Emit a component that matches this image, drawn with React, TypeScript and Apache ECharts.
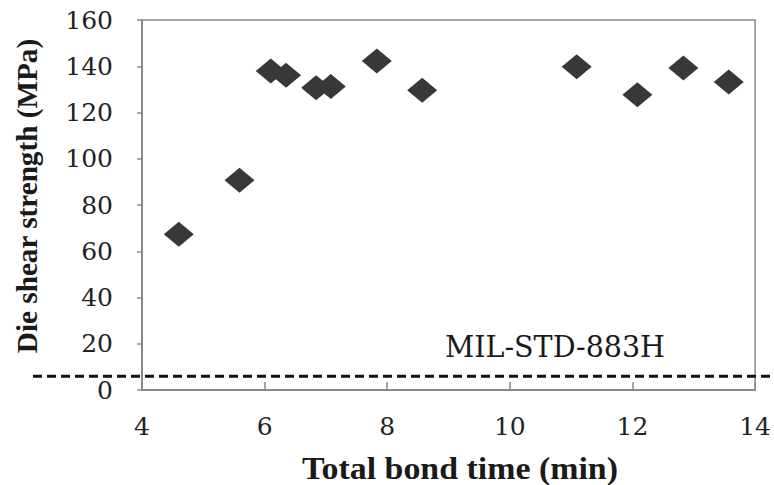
import React, { useEffect, useRef } from "react";
import * as echarts from "echarts";

const bondTime = [4.6, 5.59, 6.1, 6.35, 6.84, 7.08, 7.83, 8.57, 11.09, 12.08, 12.83, 13.57];
const shearStrength = [67.3, 90.7, 137.9, 136.1, 130.7, 131.2, 142.3, 129.6, 139.8, 127.7, 139.2, 133.2];
const standardLimit = [6];
const standardLabel = "MIL-STD-883H";
const xTitle = "Total bond time (min)";
const yTitle = "Die shear strength (MPa)";

function measure(text: string, font: string): number {
  const c = document.createElement("canvas").getContext("2d");
  if (!c) return 0;
  c.font = font;
  return c.measureText(text).width;
}

export default function App() {
  const ref = useRef<HTMLDivElement>(null);
  useEffect(() => {
    if (!ref.current) return;
    const chart = echarts.init(ref.current, null, { renderer: "svg" });
    const axisColor = "#8a8a8a";
    const labelStyle = { fontFamily: "DejaVu Serif", fontSize: 25, color: "#222" };
    chart.setOption({
      animation: false,
      backgroundColor: "#fff",
      grid: {
        left: 142, top: 20, right: 17, bottom: 95,
        show: true, borderColor: axisColor, borderWidth: 1.5,
      },
      xAxis: {
        type: "value", min: 4, max: 14, interval: 2,
        axisLine: { show: true, lineStyle: { color: axisColor, width: 2 } },
        axisTick: { show: true, inside: true, length: 8, lineStyle: { color: axisColor, width: 1.5 } },
        splitLine: { show: false },
        axisLabel: { ...labelStyle, margin: 24 },
      },
      yAxis: {
        type: "value", min: 0, max: 160, interval: 20,
        axisLine: { show: true, lineStyle: { color: axisColor, width: 2 } },
        axisTick: { show: true, inside: false, length: 5, lineStyle: { color: axisColor, width: 1.5 } },
        splitLine: { show: false },
        axisLabel: { ...labelStyle, margin: 29 },
      },
      series: [
        {
          type: "scatter",
          data: bondTime.map((x, i) => [x, shearStrength[i]]),
          symbol: "diamond",
          symbolSize: [30, 25],
          itemStyle: { color: "#383838", opacity: 1 },
        },
      ],
    });
    const yLine = chart.convertToPixel({ gridIndex: 0 }, [4, standardLimit[0]])[1];
    const yFont = "bold 29px 'Liberation Serif'";
    const xFont = "bold 32px 'Liberation Serif'";
    const mFont = "29px 'DejaVu Serif'";
    const yW = measure(yTitle, yFont) || 315;
    const xW = measure(xTitle, xFont) || 316;
    const mW = measure(standardLabel, mFont) || 220;
    chart.setOption({
      graphic: [
        {
          type: "line",
          shape: { x1: 33, y1: yLine, x2: 774, y2: yLine },
          style: { stroke: "#111", lineWidth: 3, lineDash: [9, 5] },
          z: 10,
        },
        {
          type: "text",
          x: 555, y: 347, scaleX: 220 / mW,
          style: {
            text: standardLabel, fontFamily: "DejaVu Serif", fontSize: 29,
            fill: "#1a1a1a", align: "center", verticalAlign: "middle",
          },
        },
        {
          type: "text",
          x: 460, y: 468, scaleX: 316 / xW,
          style: {
            text: xTitle, fontFamily: "Liberation Serif", fontWeight: "bold", fontSize: 32,
            fill: "#1a1a1a", align: "center", verticalAlign: "middle",
          },
        },
        {
          type: "text",
          x: 27, y: 196, rotation: Math.PI / 2, scaleX: 315 / yW,
          style: {
            text: yTitle, fontFamily: "Liberation Serif", fontWeight: "bold", fontSize: 29,
            fill: "#1a1a1a", align: "center", verticalAlign: "middle",
          },
        },
      ],
    });
    return () => chart.dispose();
  }, []);
  return <div ref={ref} style={{ width: 774, height: 485, position: "absolute", left: 0, top: 0 }} />;
}
